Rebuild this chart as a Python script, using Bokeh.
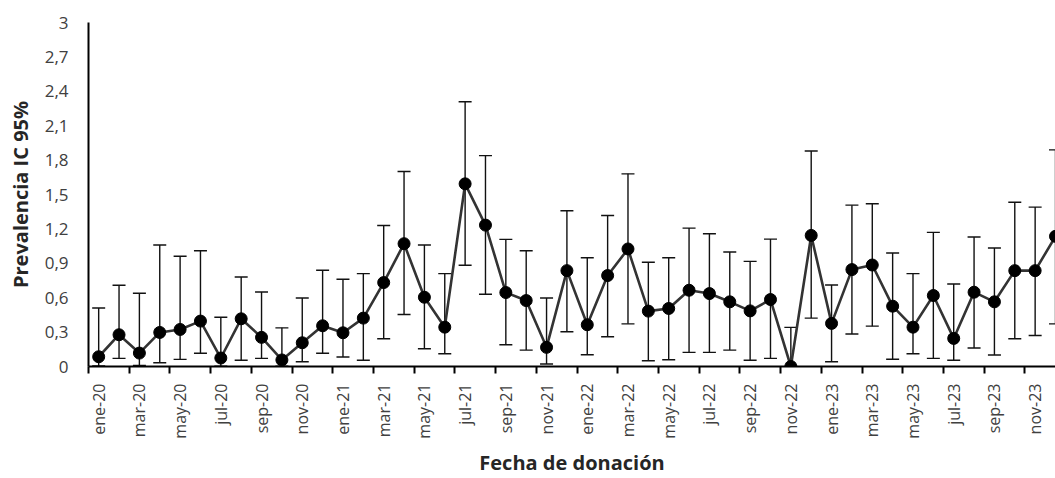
import math
from bokeh.plotting import figure
from bokeh.models import ColumnDataSource, FixedTicker, Whisker, TeeHead
from bokeh.embed import file_html
from bokeh.resources import INLINE

# Monthly categories: ene-20 ... dic-23
months = ["ene", "feb", "mar", "abr", "may", "jun", "jul", "ago", "sep", "oct", "nov", "dic"]
years = ["20", "21", "22", "23"]
categories = [f"{m}-{y}" for y in years for m in months]

prevalence = [0.085, 0.277, 0.117, 0.297, 0.323, 0.396, 0.074, 0.416,
              0.254, 0.057, 0.207, 0.355, 0.294, 0.422, 0.732, 1.071,
              0.604, 0.343, 1.593, 1.233, 0.645, 0.575, 0.167, 0.836,
              0.364, 0.793, 1.025, 0.483, 0.506, 0.665, 0.636, 0.564,
              0.485, 0.584, 0.000, 1.143, 0.376, 0.845, 0.885, 0.526,
              0.343, 0.619, 0.245, 0.648, 0.564, 0.836, 0.836, 1.135]

ci_upper = [0.510, 0.709, 0.639, 1.060, 0.961, 1.010, 0.430, 0.781,
            0.650, 0.337, 0.598, 0.839, 0.761, 0.810, 1.230, 1.700,
            1.060, 0.810, 2.309, 1.839, 1.109, 1.010, 0.598, 1.358,
            0.949, 1.317, 1.680, 0.909, 0.949, 1.207, 1.158, 0.998,
            0.917, 1.111, 0.341, 1.880, 0.711, 1.407, 1.419, 0.990,
            0.810, 1.170, 0.720, 1.129, 1.033, 1.433, 1.390, 1.889]

ci_lower = [0.005, 0.071, 0.010, 0.033, 0.062, 0.115, 0.003, 0.054,
            0.071, 0.003, 0.042, 0.115, 0.083, 0.054, 0.242, 0.454,
            0.155, 0.111, 0.883, 0.630, 0.190, 0.143, 0.022, 0.303,
            0.103, 0.259, 0.372, 0.050, 0.059, 0.123, 0.123, 0.143,
            0.054, 0.071, 0.000, 0.422, 0.042, 0.283, 0.352, 0.063,
            0.111, 0.071, 0.054, 0.161, 0.100, 0.242, 0.271, 0.372]

y_ticks = [0, 0.3, 0.6, 0.9, 1.2, 1.5, 1.8, 2.1, 2.4, 2.7, 3]
y_tick_labels = ["0", "0,3", "0,6", "0,9", "1,2", "1,5", "1,8", "2,1", "2,4", "2,7", "3"]

x_idx = list(range(len(categories)))
src = ColumnDataSource(dict(x=x_idx, y=prevalence, upper=ci_upper, lower=ci_lower))

FONT = "Open Sans"

p = figure(width=1055, height=478, output_backend="svg", toolbar_location=None,
           x_range=(-0.5, 47.0), y_range=(0, 3))
p.min_border_left = 88
p.min_border_right = 0
p.min_border_top = 22
p.min_border_bottom = 110
p.outline_line_color = None
p.xgrid.grid_line_color = None
p.ygrid.grid_line_color = None
p.background_fill_color = "white"
p.border_fill_color = "white"

# Error bars
wh = Whisker(base="x", upper="upper", lower="lower", source=src,
             line_color="#111111", line_width=1.4,
             upper_head=TeeHead(size=13, line_color="#111111", line_width=1.4),
             lower_head=TeeHead(size=13, line_color="#111111", line_width=1.4))
p.add_layout(wh)

p.line("x", "y", source=src, line_color="#333333", line_width=2.6)
p.scatter("x", "y", source=src, size=12, fill_color="black", line_color="black")

# X axis: labels every 2 months, tick marks between categories
xa = p.xaxis[0]
xa.ticker = FixedTicker(ticks=x_idx[::2], minor_ticks=[i - 0.5 for i in x_idx[::2]] + [47.5])
xa.major_label_overrides = {i: categories[i] for i in x_idx[::2]}
xa.major_label_orientation = math.pi / 2
xa.major_tick_line_color = None
xa.major_tick_out = 0
xa.major_tick_in = 0
xa.minor_tick_line_color = "black"
xa.minor_tick_line_width = 2
xa.minor_tick_out = 7
xa.minor_tick_in = 0
xa.axis_line_color = "black"
xa.axis_line_width = 2
xa.major_label_standoff = 10
xa.major_label_text_font = FONT
xa.major_label_text_font_size = "16px"
xa.major_label_text_color = "#404040"
xa.axis_label = "Fecha de donación"
xa.axis_label_text_font = FONT
xa.axis_label_text_font_style = "bold"
xa.axis_label_text_font_size = "20px"
xa.axis_label_text_color = "#262626"
xa.axis_label_standoff = 7

ya = p.yaxis[0]
ya.ticker = FixedTicker(ticks=y_ticks)
ya.major_label_overrides = {t: l for t, l in zip(y_ticks, y_tick_labels)}
ya.major_tick_line_color = None
ya.major_tick_out = 0
ya.major_tick_in = 0
ya.minor_tick_line_color = None
ya.axis_line_color = "black"
ya.axis_line_width = 2
ya.major_label_standoff = 20
ya.major_label_text_font = FONT
ya.major_label_text_font_size = "17px"
ya.major_label_text_color = "#404040"
ya.axis_label = "Prevalencia IC 95%"
ya.axis_label_text_font = FONT
ya.axis_label_text_font_style = "bold"
ya.axis_label_text_font_size = "20px"
ya.axis_label_text_color = "#262626"
ya.axis_label_standoff = 8

open("out.html", "w").write(file_html(p, INLINE))
